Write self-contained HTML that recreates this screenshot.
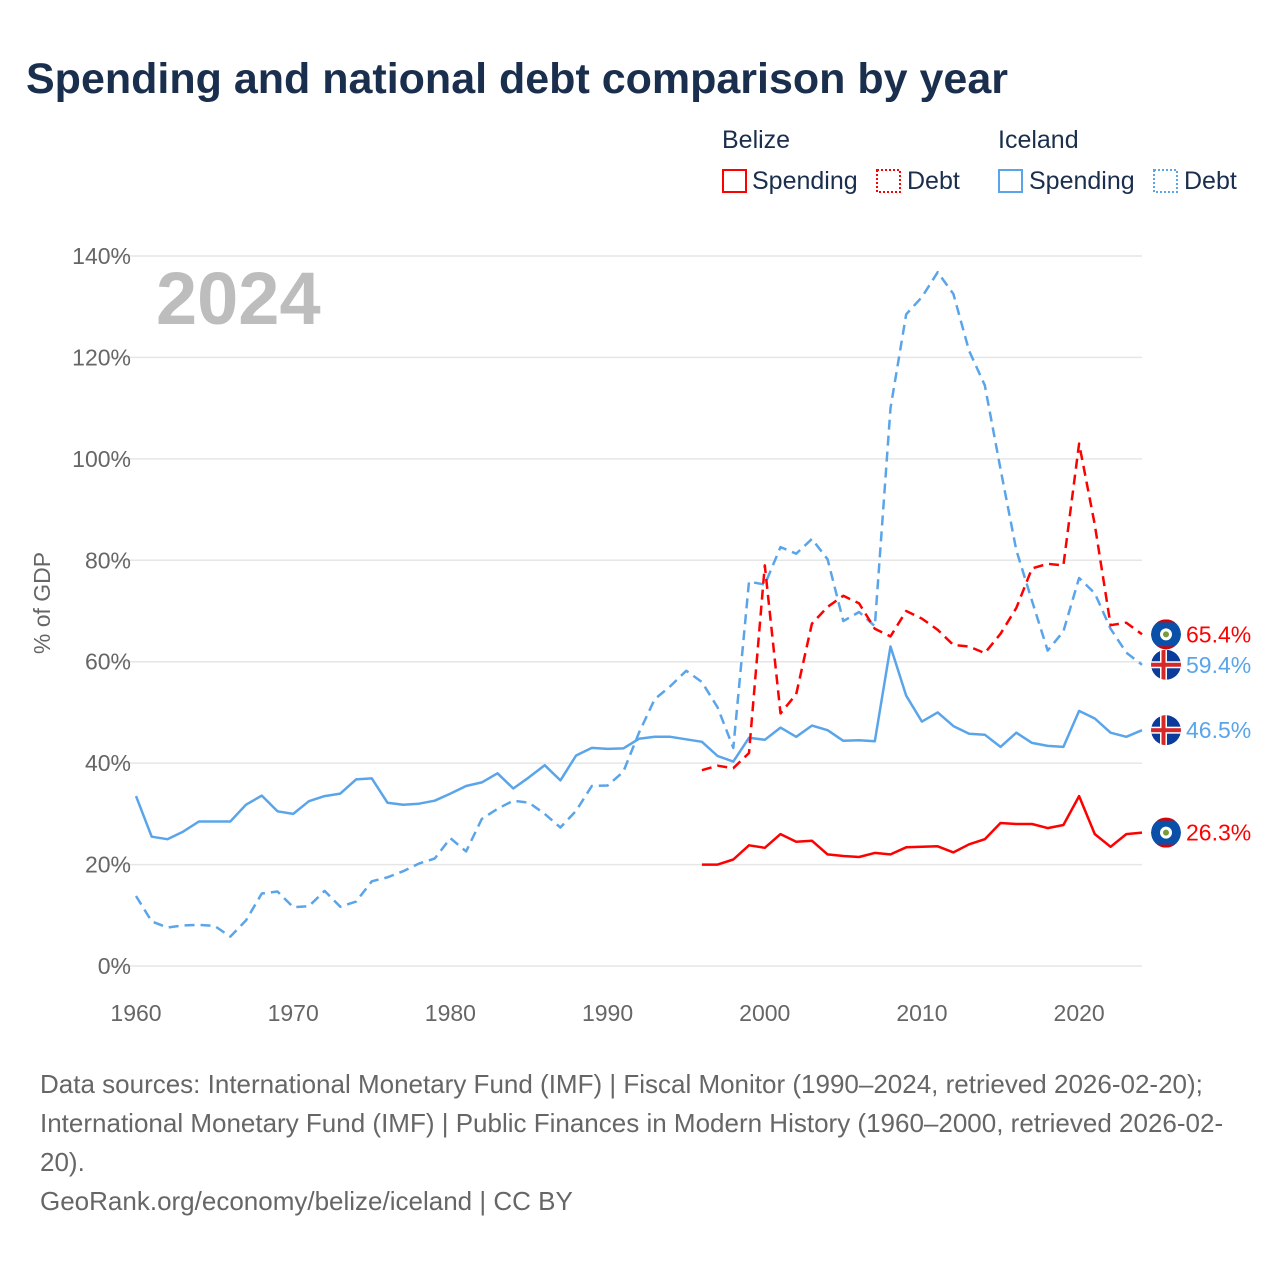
<!DOCTYPE html>
<html><head><meta charset="utf-8"><style>
body{margin:0;background:#fff;font-family:"Liberation Sans",sans-serif;}
svg text{font-family:"Liberation Sans",sans-serif;}
</style></head><body>
<svg width="1280" height="1280" xmlns="http://www.w3.org/2000/svg" id="chart">
<text x="26" y="93" font-size="43" font-weight="bold" fill="#1a2e4d">Spending and national debt comparison by year</text>
<g font-size="25" fill="#1a2e4d">
<text x="722" y="148">Belize</text>
<text x="998" y="148">Iceland</text>
<g><rect x="723" y="170" width="23" height="22" fill="none" stroke="#f00" stroke-width="2"/><text x="752" y="189">Spending</text></g>
<g><rect x="877" y="170" width="23" height="22" fill="none" stroke="#f00" stroke-width="2" stroke-dasharray="2 2"/><text x="907" y="189">Debt</text></g>
<g><rect x="999" y="170" width="23" height="22" fill="none" stroke="#5aa5ea" stroke-width="2"/><text x="1029" y="189">Spending</text></g>
<g><rect x="1154" y="170" width="23" height="22" fill="none" stroke="#5aa5ea" stroke-width="2" stroke-dasharray="2 2"/><text x="1184" y="189">Debt</text></g>
</g>
<defs><clipPath id="fc"><circle cx="0" cy="0" r="15"/></clipPath></defs>
<g id="grid"></g>
<g id="yticks" font-size="23" fill="#666"></g>
<g id="xticks" font-size="23" fill="#666"></g>
<text x="0" y="0" transform="translate(50,603) rotate(-90)" text-anchor="middle" font-size="23" fill="#666">% of GDP</text>
<text x="156" y="324" font-size="74" font-weight="bold" fill="#bdbdbd">2024</text>
<g id="lines"></g>
<g id="ends"></g>
<g font-size="26" fill="#666">
<text x="40" y="1093">Data sources: International Monetary Fund (IMF) | Fiscal Monitor (1990–2024, retrieved 2026-02-20);</text>
<text x="40" y="1132">International Monetary Fund (IMF) | Public Finances in Modern History (1960–2000, retrieved 2026-02-</text>
<text x="40" y="1171">20).</text>
<text x="40" y="1210">GeoRank.org/economy/belize/iceland | CC BY</text>
</g>
</svg>
<script>
const yTicks=[0,20,40,60,80,100,120,140];
const xTicks=[1960,1970,1980,1990,2000,2010,2020];
const icelandYears0=1960;
const icelandSpending=[33.5,25.5,25,26.5,28.5,28.5,28.5,31.8,33.6,30.5,30,32.5,33.5,34,36.8,37,32.2,31.8,32,32.6,34,35.5,36.2,38,35,37.2,39.6,36.6,41.5,43,42.8,42.9,44.8,45.2,45.2,44.7,44.2,41.4,40.3,45,44.6,47,45.2,47.4,46.5,44.4,44.5,44.3,63,53.3,48.2,50,47.3,45.8,45.6,43.2,46,44,43.4,43.2,50.3,48.8,46,45.2,46.5];
const icelandDebt=[13.8,8.8,7.6,8,8.1,7.9,5.8,9,14.3,14.7,11.6,11.8,14.8,11.7,12.7,16.7,17.5,18.7,20.2,21.2,25.2,22.6,29,31,32.6,32.2,30,27.3,30.6,35.5,35.6,38.3,46,52.6,55.2,58.2,56,51,43,75.8,75.2,82.6,81.3,84.2,80.2,68,69.8,67,110,128.5,131.9,136.8,132.5,121.3,114.5,98,82,72,62.2,66,76.5,73.5,66.5,61.8,59.4];
const belizeYears0=1996;
const belizeSpending=[20,20,21,23.8,23.3,26,24.5,24.7,22,21.7,21.5,22.3,22,23.4,23.5,23.6,22.4,24,25,28.2,28,28,27.2,27.8,33.5,26,23.5,26,26.3];
const belizeDebt=[38.6,39.5,39,42,79,49.8,53.6,67.5,70.8,73,71.5,66.5,65,70,68.5,66.3,63.3,63,61.7,65.5,70.6,78.4,79.3,79,103,87,67.2,67.7,65.4];
const NS="http://www.w3.org/2000/svg";
const X=yr=>136+(yr-1960)*(1142-136)/64;
const Y=v=>966-v*(966-256)/140;
function mk(t,a,p){const e=document.createElementNS(NS,t);for(const k in a)e.setAttribute(k,a[k]);p.appendChild(e);return e;}
const grid=document.getElementById('grid'),yt=document.getElementById('yticks'),xt=document.getElementById('xticks');
yTicks.forEach(v=>{
 const l=mk('line',{x1:108,x2:1142,y1:Y(v),y2:Y(v),stroke:'#e6e6e6','stroke-width':1.5},grid);
 
 
 const t=mk('text',{x:131,y:Y(v)+8,'text-anchor':'end'},yt);t.textContent=v+'%';
 
 
});
xTicks.forEach(v=>{
 const t=mk('text',{x:X(v),y:1021,'text-anchor':'middle'},xt);t.textContent=v;
 
 
});
const lines=document.getElementById('lines');
function series(arr,y0,color,dash,name){
 const pts=arr.map((v,i)=>X(y0+i).toFixed(1)+','+Y(v).toFixed(1)).join(' ');
 const p=mk('polyline',{points:pts,fill:'none',stroke:color,'stroke-width':2.5,'stroke-linejoin':'round'},lines);
 if(dash)p.setAttribute('stroke-dasharray','10 6');
 
 
}
series(icelandSpending,icelandYears0,'#5aa5ea',false,'iceland-spending-line');
series(icelandDebt,icelandYears0,'#5aa5ea',true,'iceland-debt-line');
series(belizeSpending,belizeYears0,'#f00',false,'belize-spending-line');
series(belizeDebt,belizeYears0,'#f00',true,'belize-debt-line');
const ends=document.getElementById('ends');
function endLabel(arr,color,flag,name){
 const v=arr[arr.length-1],y=Y(v),cx=1166;
 const g=mk('g',{transform:'translate('+cx+','+y+')'},ends);
 
 
 const f=mk('g',{'clip-path':'url(#fc)'},g);
 mk('circle',{cx:0,cy:0,r:15,fill:flag==='bz'?'#0a4fa8':'#0b3c9c'},f);
 if(flag==='bz'){mk('circle',{cx:0,cy:0,r:6,fill:'#fff'},f);mk('circle',{cx:0,cy:0,r:3,fill:'#7a9b3a'},f);
  mk('rect',{x:-15,y:-15,width:30,height:3,fill:'#d00'},f);mk('rect',{x:-15,y:12,width:30,height:3,fill:'#d00'},f);}
 else{mk('rect',{x:-15,y:-3.5,width:30,height:7,fill:'#fff'},f);mk('rect',{x:-6,y:-15,width:7,height:30,fill:'#fff'},f);
  mk('rect',{x:-15,y:-2,width:30,height:4,fill:'#d62828'},f);mk('rect',{x:-4.5,y:-15,width:4,height:30,fill:'#d62828'},f);}
 const t=mk('text',{x:20,y:8,fill:color,'font-size':23},g);t.textContent=v.toFixed(1)+'%';
}
endLabel(belizeDebt,'#f00','bz','belize-debt-end-label');
endLabel(icelandDebt,'#5aa5ea','is','iceland-debt-end-label');
endLabel(icelandSpending,'#5aa5ea','is','iceland-spending-end-label');
endLabel(belizeSpending,'#f00','bz','belize-spending-end-label');
</script>
</body></html>
